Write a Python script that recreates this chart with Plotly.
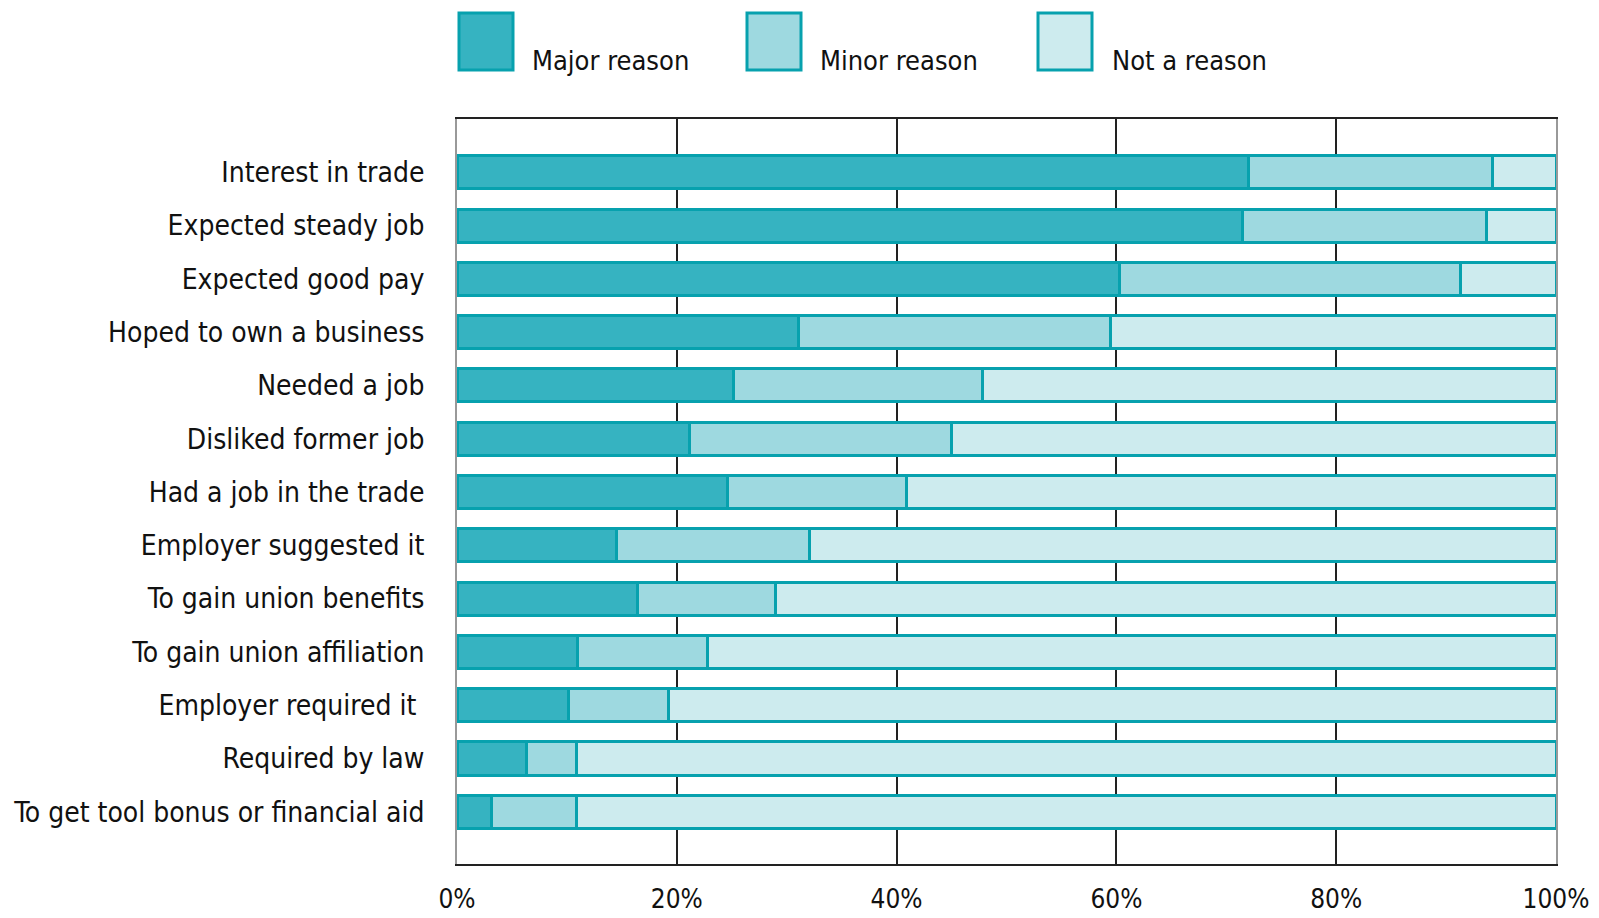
import plotly.graph_objects as go

categories = [
    "Interest in trade",
    "Expected steady job",
    "Expected good pay",
    "Hoped to own a business",
    "Needed a job",
    "Disliked former job",
    "Had a job in the trade",
    "Employer suggested it",
    "To gain union benefits",
    "To gain union affiliation",
    "Employer required it ",
    "Required by law",
    "To get tool bonus or financial aid",
]
major = [72.0, 71.5, 60.3, 31.1, 25.2, 21.2, 24.6, 14.5, 16.4, 11.0, 10.1, 6.3, 3.1]
minor = [22.2, 22.2, 31.0, 28.4, 22.6, 23.8, 16.3, 17.6, 12.6, 11.8, 9.1, 4.6, 7.8]
not_reason = [round(100 - a - b, 1) for a, b in zip(major, minor)]
series_names = ["Major reason", "Minor reason", "Not a reason"]
x_ticks = [0, 20, 40, 60, 80, 100]
x_tick_labels = ["0%", "20%", "40%", "60%", "80%", "100%"]

fills = ["#36b3c1", "#9ed9e0", "#cdebee"]
outline = "#07a1ae"
FONT = "DejaVu Sans Condensed, Liberation Sans Narrow, sans-serif"

fig = go.Figure()
for name, vals, col in zip(series_names, [major, minor, not_reason], fills):
    fig.add_trace(go.Bar(
        y=categories, x=vals, name=name, orientation="h",
        width=0.62, marker=dict(color=col, line=dict(color=outline, width=3)),
        showlegend=False,
    ))

W, H = 1599, 918
l, r, t, b = 457, 43, 119, 54
pw, ph = W - l - r, H - t - b

def px(x):
    return (x - l) / pw

def py(y):
    return (H - b - y) / ph

legend_boxes = [(459, 530), (747, 818), (1038, 1110)]
for (bx, tx), name, col in zip(legend_boxes, series_names, fills):
    fig.add_shape(type="rect", xref="paper", yref="paper",
                  x0=px(bx), x1=px(bx + 54), y0=py(70), y1=py(13),
                  fillcolor=col, line=dict(color=outline, width=3))
    fig.add_annotation(xref="paper", yref="paper", x=px(tx), y=py(60),
                       text=name, showarrow=False, xanchor="left", yanchor="middle",
                       font=dict(size=27, color="#111", family=FONT))

fig.update_layout(
    width=W, height=H,
    margin=dict(l=l, r=r, t=t, b=b, autoexpand=False),
    barmode="stack", bargap=0.38,
    plot_bgcolor="white", paper_bgcolor="white",
    font=dict(family=FONT, size=28, color="#111"),
    xaxis=dict(range=[0, 100], tickvals=x_ticks, ticktext=x_tick_labels,
               showgrid=True, gridcolor="#222", gridwidth=1.5,
               showline=True, linecolor="#222", linewidth=2, mirror=True,
               ticks="outside", ticklen=11, tickcolor="white", zeroline=False,
               automargin=False, tickfont=dict(size=26)),
    yaxis=dict(type="category", range=[12.98, -1.0], showgrid=False,
               showline=True, linecolor="#999", linewidth=2, mirror=True,
               ticks="outside", ticklen=25, tickcolor="white",
               automargin=False, tickfont=dict(size=28)),
)
fig.write_html("out.html")
